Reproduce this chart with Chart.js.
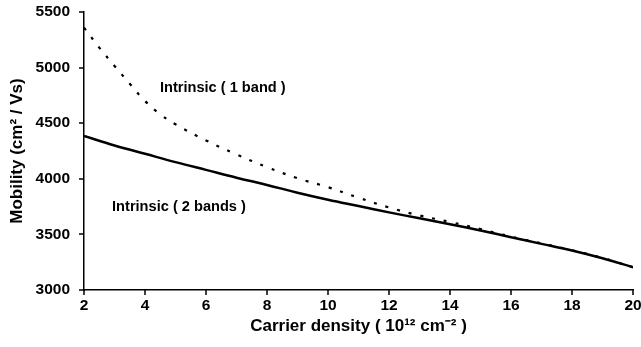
<!DOCTYPE html>
<html>
<head>
<meta charset="utf-8">
<script src="https://cdn.jsdelivr.net/npm/chart.js@4/dist/chart.umd.min.js"></script>
<style>
  html, body { margin: 0; padding: 0; background: #fff; overflow: hidden; }
  #wrap { width: 641px; height: 347px; }
</style>
</head>
<body>
<div id="wrap"><canvas id="mobility-chart"></canvas></div>
<script>
// Carrier density (10^12 cm^-2) and mobility (cm^2/Vs)
const densityOneBand = [2, 2.5, 3, 3.5, 4, 4.5, 5, 6, 7, 8, 9, 10, 11, 12, 13, 14, 15, 16, 17, 18, 19, 20];
const mobilityOneBand = [5360, 5180, 5015, 4855, 4700, 4580, 4490, 4345, 4220, 4105, 4005, 3925, 3830, 3742, 3670, 3612, 3548, 3480, 3420, 3358, 3288, 3205];

const densityTwoBands = [2, 3, 4, 5, 6, 7, 8, 9, 10, 11, 12, 13, 14, 15, 16, 17, 18, 19, 20];
const mobilityTwoBands = [4385, 4300, 4225, 4150, 4080, 4010, 3945, 3875, 3812, 3755, 3698, 3645, 3592, 3535, 3475, 3415, 3355, 3285, 3205];

const xTicks = [2, 4, 6, 8, 10, 12, 14, 16, 18, 20];
const yTicks = [3000, 3500, 4000, 4500, 5000, 5500];

const labels = [
    { text: 'Intrinsic ( 1 band )', x: 4.49, y: 4817 },
    { text: 'Intrinsic ( 2 bands )', x: 2.92, y: 3746 }
];

const toPoints = (xs, ys) => xs.map((x, i) => ({ x: x, y: ys[i] }));

const tickFont = { family: 'Liberation Sans, Arial, sans-serif', size: 15.5, weight: 'bold' };
const titleFont = { family: 'Liberation Sans, Arial, sans-serif', size: 17, weight: 'bold' };

// draws the two curve annotations at data positions
const textLabels = {
    id: 'textLabels',
    afterDatasetsDraw(chart) {
        const { ctx, scales } = chart;
        ctx.save();
        ctx.fillStyle = '#000';
        ctx.font = 'bold 14.6px "Liberation Sans", Arial, sans-serif';
        ctx.textBaseline = 'middle';
        ctx.textAlign = 'left';
        labels.forEach(l => {
            ctx.fillText(l.text, scales.x.getPixelForValue(l.x), scales.y.getPixelForValue(l.y));
        });
        ctx.restore();
    }
};

// small outward tick marks on both axes
const tickMarks = {
    id: 'tickMarks',
    afterDraw(chart) {
        const { ctx, scales, chartArea } = chart;
        ctx.save();
        ctx.strokeStyle = '#000';
        ctx.lineWidth = 1.5;
        ctx.beginPath();
        xTicks.forEach(v => {
            const px = Math.round(scales.x.getPixelForValue(v));
            ctx.moveTo(px, chartArea.bottom);
            ctx.lineTo(px, chartArea.bottom + 5);
        });
        yTicks.forEach(v => {
            const py = Math.round(scales.y.getPixelForValue(v));
            ctx.moveTo(chartArea.left - 5, py);
            ctx.lineTo(chartArea.left, py);
        });
        ctx.stroke();
        ctx.restore();
    }
};

new Chart(document.getElementById('mobility-chart'), {
    type: 'line',
    data: {
        datasets: [
            {
                label: 'Intrinsic ( 1 band )',
                data: toPoints(densityOneBand, mobilityOneBand),
                borderColor: '#000',
                borderWidth: 2.2,
                borderDash: [3, 9],
                pointRadius: 0,
                tension: 0.4,
                fill: false
            },
            {
                label: 'Intrinsic ( 2 bands )',
                data: toPoints(densityTwoBands, mobilityTwoBands),
                borderColor: '#000',
                borderWidth: 2.5,
                pointRadius: 0,
                tension: 0.4,
                fill: false
            }
        ]
    },
    options: {
        responsive: true,
        maintainAspectRatio: false,
        animation: false,
        layout: { padding: { top: 12, left: 0, right: 8, bottom: 0 } },
        plugins: {
            legend: { display: false },
            tooltip: { enabled: false }
        },
        scales: {
            x: {
                type: 'linear',
                min: 2,
                max: 20,
                afterBuildTicks: axis => { axis.ticks = xTicks.map(v => ({ value: v })); },
                afterFit: axis => { axis.height = 57; axis.paddingLeft = 0; axis.paddingRight = 0; },
                grid: { display: false, drawTicks: false, tickLength: 0 },
                border: { color: '#000', width: 1.5 },
                ticks: { color: '#000', font: tickFont, padding: 6, maxRotation: 0, callback: v => String(v) },
                title: { display: true, text: 'Carrier density ( 10¹² cm⁻² )', color: '#000', font: titleFont, padding: { top: 0, bottom: 10 } }
            },
            y: {
                min: 3000,
                max: 5500,
                afterBuildTicks: axis => { axis.ticks = yTicks.map(v => ({ value: v })); },
                afterFit: axis => { axis.width = 84; axis.paddingTop = 0; axis.paddingBottom = 0; },
                grid: { display: false, drawTicks: false, tickLength: 0 },
                border: { color: '#000', width: 1.5 },
                ticks: { color: '#000', font: tickFont, padding: 14, callback: v => String(v) },
                title: { display: true, text: 'Mobility (cm² / Vs)', color: '#000', font: titleFont, padding: { top: 7, bottom: 0 } }
            }
        }
    },
    plugins: [textLabels, tickMarks]
});
</script>
</body>
</html>
